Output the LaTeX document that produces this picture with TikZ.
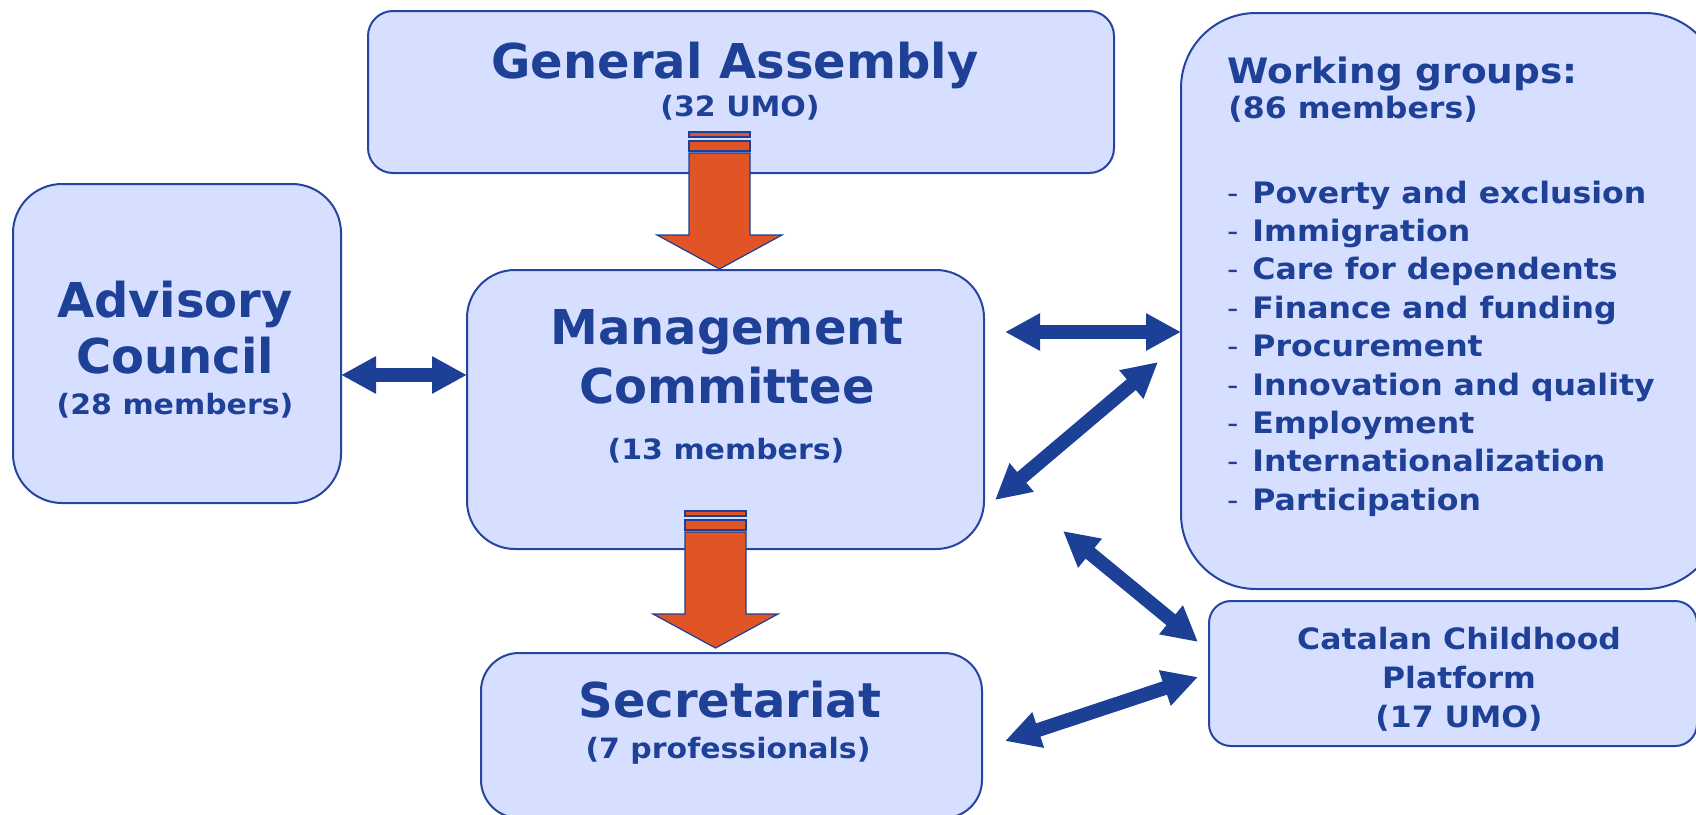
\documentclass[tikz,border=0pt]{standalone}
\usepackage{fontspec}
\setmainfont{DejaVu Sans}
\newfontfamily\widefont[FakeStretch=1.07]{DejaVu Sans}
\usetikzlibrary{arrows.meta}

\definecolor{boxfill}{RGB}{214,223,255}
\definecolor{boxline}{RGB}{38,68,160}
\definecolor{textblue}{RGB}{30,64,150}
\definecolor{arrowblue}{RGB}{28,64,150}
\definecolor{arroworange}{RGB}{224,84,38}

% block arrow pointing down: #1 = centre x, #2 = top y
\newcommand{\orgarrow}[2]{%
  \filldraw[orgpart] ({#1-30.5},#2) rectangle ({#1+30.5},{#2+5});
  \filldraw[orgpart] ({#1-30.5},{#2+9}) rectangle ({#1+30.5},{#2+19});
  \filldraw[orgpart] ({#1-30.5},{#2+21}) -- ({#1+30.5},{#2+21}) -- ({#1+30.5},{#2+103})
    -- ({#1+62.5},{#2+103}) -- (#1,{#2+137}) -- ({#1-62.5},{#2+103}) -- ({#1-30.5},{#2+103}) -- cycle;}
\newcommand{\wgdash}{\makebox[12.5pt][l]{\mdseries -}}

\begin{document}
\begin{tikzpicture}[x=0.5pt,y=-0.5pt,
	box/.style={draw=boxline, fill=boxfill, line width=1pt, inner sep=0pt, outer sep=0pt},
	boxtitle/.style={text=textblue, font=\bfseries\fontsize{24}{24}\selectfont, anchor=base, inner sep=0pt},
	boxsub/.style={text=textblue, font=\widefont\bfseries\fontsize{14}{14}\selectfont, anchor=base, inner sep=0pt},
	cattext/.style={text=textblue, font=\widefont\bfseries\fontsize{14.7}{14.7}\selectfont, anchor=base, inner sep=0pt},
	wghead/.style={text=textblue, font=\widefont\bfseries\fontsize{17.5}{17.5}\selectfont, anchor=base west, inner sep=0pt},
	wgitem/.style={text=textblue, font=\widefont\bfseries\fontsize{14.75}{14.75}\selectfont, anchor=base west, inner sep=0pt},
	orgpart/.style={fill=arroworange, draw=arrowblue, line width=0.6pt},
	dblarrow/.style={draw=arrowblue, line width=7pt, <->, >={Triangle[length=17.5pt,width=17.5pt]}}]
	\clip (0,0) rectangle (1696,814);
	% boxes
	\node[box, rounded corners=12.5pt, minimum width=373pt, minimum height=81pt] (ga) at (741,92) {};
	\node[box, rounded corners=24.5pt, minimum width=164pt, minimum height=159.5pt] (adv) at (177,343.5) {};
	\node[box, rounded corners=24pt, minimum width=258.5pt, minimum height=139.5pt] (mgmt) at (725.5,409.5) {};
	\node[box, rounded corners=19pt, minimum width=250.5pt, minimum height=82.5pt] (sec) at (731.5,735.5) {};
	\node[box, rounded corners=37.5pt, minimum width=269.5pt, minimum height=288pt] (wg) at (1450.5,301) {};
	\node[box, rounded corners=11pt, minimum width=244pt, minimum height=72.5pt] (cat) at (1453,673.5) {};
	% orange arrows
	\orgarrow{719.5}{132}
	\orgarrow{715.5}{511}
	% blue arrows
	\coordinate (acl) at (0,375);
	\coordinate (mwl) at (0,332);
	\draw[dblarrow] (adv.east |- acl) -- (mgmt.west |- acl);
	\draw[dblarrow, shorten <=10.5pt] (mgmt.east |- mwl) -- (wg.west |- mwl);
	\draw[dblarrow] ([xshift=5.5pt,yshift=24.5pt]mgmt.south east) -- ([xshift=-11.5pt,yshift=-30.5pt]wg.west);
	\draw[dblarrow] ([xshift=-59pt,yshift=29pt]wg.south west) -- ([xshift=-5.5pt,yshift=15.75pt]cat.west);
	\draw[dblarrow] ([xshift=11.5pt,yshift=-2.75pt]sec.east) -- ([xshift=-5.5pt,yshift=-1.75pt]cat.west);
	% texts
	\node[boxtitle] (ga-name) at (735,78) {General Assembly};
	\node[boxsub] (ga-size) at (740,116) {(32 UMO)};
	\node[boxtitle] (adv-name1) at (175,317) {Advisory};
	\node[boxtitle] (adv-name2) at (175,373) {Council};
	\node[boxsub] (adv-size) at (175,414) {(28 members)};
	\node[boxtitle] (mgmt-name1) at (727,344) {Management};
	\node[boxtitle] (mgmt-name2) at (727,403) {Committee};
	\node[boxsub] (mgmt-size) at (726,459) {(13 members)};
	\node[boxtitle] (sec-name) at (730,717) {Secretariat};
	\node[boxsub] (sec-size) at (728,758) {(7 professionals)};
	\node[cattext] (cat-name1) at (1459,649) {Catalan Childhood};
	\node[cattext] (cat-name2) at (1459,688) {Platform};
	\node[cattext] (cat-size) at (1459,727) {(17 UMO)};
	\node[wghead] (wg-name) at (1227,83) {Working groups:};
	\node[wgitem] (wg-size) at (1228,118) {(86 members)};
	\node[wgitem] (wg-pov) at (1227,203) {\wgdash Poverty and exclusion};
	\node[wgitem] (wg-imm) at (1227,241.4) {\wgdash Immigration};
	\node[wgitem] (wg-care) at (1227,279.8) {\wgdash Care for dependents};
	\node[wgitem] (wg-fin) at (1227,318.2) {\wgdash Finance and funding};
	\node[wgitem] (wg-proc) at (1227,356.6) {\wgdash Procurement};
	\node[wgitem] (wg-inno) at (1227,395) {\wgdash Innovation and quality};
	\node[wgitem] (wg-emp) at (1227,433.4) {\wgdash Employment};
	\node[wgitem] (wg-int) at (1227,471.8) {\wgdash Internationalization};
	\node[wgitem] (wg-part) at (1227,510.2) {\wgdash Participation};
\end{tikzpicture}
\end{document}
